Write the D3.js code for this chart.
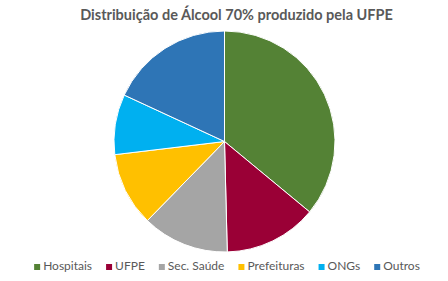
<html>
<head>
<meta charset="utf-8">
<title>Distribuição de Álcool 70%</title>
<script src="https://cdn.jsdelivr.net/npm/d3@7"></script>
<style>
  body { margin: 0; background: #fff; }
  text { font-family: Lato, "Open Sans", sans-serif; fill: #595959; }
</style>
</head>
<body>
<script>
// data (share of total, %)
var categories = ["Hospitais", "UFPE", "Sec. Saúde", "Prefeituras", "ONGs", "Outros"];
var values = [36.0, 13.6, 12.7, 10.8, 8.8, 18.1];
var colors = ["#548235", "#9a0036", "#a5a5a5", "#ffc000", "#00b0f0", "#2e75b6"];

var width = 448, height = 281,
    cx = 224.5, cy = 141.5, radius = 110.5;

var svg = d3.select("body").append("svg")
    .attr("width", width)
    .attr("height", height);

svg.append("text")
    .attr("x", 236.5)
    .attr("y", 20)
    .attr("text-anchor", "middle")
    .style("font-size", "14.5px")
    .style("font-weight", "bold")
    .text("Distribuição de Álcool 70% produzido pela UFPE");

var color = d3.scaleOrdinal().domain(categories).range(colors);

var pie = d3.pie().sort(null).value(function(d, i) { return values[i]; });
var arc = d3.arc().innerRadius(0).outerRadius(radius);

var g = svg.append("g")
    .attr("transform", "translate(" + cx + "," + cy + ")");

g.selectAll("path")
    .data(pie(categories))
  .enter().append("path")
    .attr("d", arc)
    .attr("fill", function(d) { return color(d.data); })
    .attr("stroke", "#fff")
    .attr("stroke-width", 1);

// legend, centred under the pie
var legend = svg.append("g");
var items = legend.selectAll("g")
    .data(categories)
  .enter().append("g");

items.append("rect")
    .attr("width", 6).attr("height", 6)
    .attr("y", -6)
    .attr("fill", function(d) { return color(d); });

items.append("text")
    .attr("x", 9)
    .attr("y", 0)
    .style("font-size", "12px")
    .text(function(d) { return d; });

var xpos = 0;
items.each(function() {
  var w = d3.select(this).select("text").node().getComputedTextLength() + 9;
  d3.select(this).attr("transform", "translate(" + xpos + ",0)");
  xpos += w + 14;
});
var total = xpos - 14;
legend.attr("transform", "translate(" + ((width - total) / 2 + 3) + ",270)");
</script>
</body>
</html>
